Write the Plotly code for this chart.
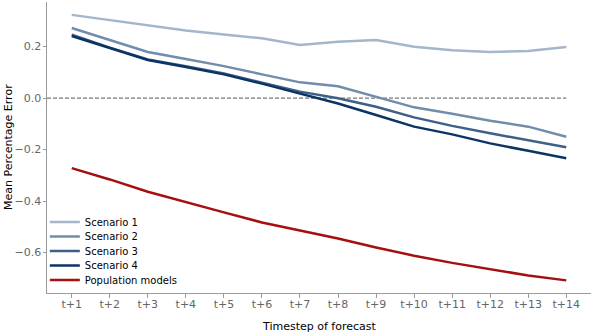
import plotly.graph_objects as go

# Forecast horizons
steps = [f"t+{i}" for i in range(1, 15)]

# Mean percentage error per scenario
scenario_1 = [0.323, 0.303, 0.283, 0.262, 0.247, 0.232, 0.206, 0.219, 0.225, 0.199, 0.186, 0.179, 0.183, 0.198]
scenario_2 = [0.272, 0.225, 0.179, 0.152, 0.124, 0.092, 0.061, 0.046, 0.005, -0.036, -0.061, -0.088, -0.111, -0.150]
scenario_3 = [0.246, 0.196, 0.150, 0.124, 0.095, 0.060, 0.025, -0.001, -0.034, -0.075, -0.108, -0.137, -0.163, -0.191]
scenario_4 = [0.241, 0.193, 0.148, 0.121, 0.092, 0.056, 0.018, -0.021, -0.066, -0.111, -0.141, -0.176, -0.205, -0.234]
population = [-0.272, -0.316, -0.364, -0.405, -0.444, -0.483, -0.513, -0.545, -0.580, -0.612, -0.640, -0.665, -0.689, -0.708]

series = [
    ("Scenario 1", scenario_1, "#a3b6cb"),
    ("Scenario 2", scenario_2, "#718dab"),
    ("Scenario 3", scenario_3, "#3d5f88"),
    ("Scenario 4", scenario_4, "#0c3463"),
    ("Population models", population, "#a50f0f"),
]

x_idx = list(range(len(steps)))
x_range = [-0.65, len(steps) - 1 + 0.65]

# plot area in pixels (used to place the stacked legends)
W, H = 592, 336
M = dict(l=47, r=1, t=2, b=43)
plot_h = H - M["t"] - M["b"]

fig = go.Figure()
legends = {}
for i, (name, vals, color) in enumerate(series):
    key = "legend" if i == 0 else f"legend{i + 1}"
    fig.add_trace(go.Scatter(
        x=x_idx, y=vals, name=name, mode="lines",
        line=dict(color=color, width=2.5), legend=key,
    ))
    # one legend per entry so rows can sit close together like matplotlib
    row_px = 222 + i * 14.5
    legends[key] = dict(
        x=-0.004, y=(H - M["b"] - row_px) / plot_h, xanchor="left", yanchor="middle",
        bgcolor="rgba(0,0,0,0)", itemwidth=30,
        font=dict(family="DejaVu Sans", size=10, color="black"),
    )

# zero reference line
fig.add_shape(type="line", xref="x", x0=x_range[0], x1=x_idx[-1], yref="y", y0=0, y1=0,
              line=dict(color="#7a7a7a", width=1.2, dash="4px,2px"), layer="below")

axis_common = dict(
    showgrid=False, zeroline=False, showline=True, linecolor="#9a9a9a", linewidth=1,
    ticks="outside", ticklen=3.5, tickcolor="#9a9a9a", automargin=False,
    tickfont=dict(size=11, color="#666666"),
)

fig.update_layout(
    width=W, height=H,
    margin=M,
    plot_bgcolor="white", paper_bgcolor="white",
    font=dict(family="DejaVu Sans, Arial, sans-serif", size=11, color="black"),
    showlegend=True,
    xaxis=dict(range=x_range, tickmode="array", tickvals=x_idx, ticktext=steps,
               ticklabelstandoff=-3, **axis_common),
    yaxis=dict(range=[-0.757, 0.373], tickvals=[-0.6, -0.4, -0.2, 0.0, 0.2], tickformat=".1f",
               ticklabelstandoff=-1, **axis_common),
    annotations=[
        dict(text="Timestep of forecast", xref="paper", yref="paper",
             x=0.5, y=(H - M["b"] - 326) / plot_h, xanchor="center", yanchor="middle",
             showarrow=False, font=dict(size=11)),
        dict(text="Mean Percentage Error", xref="paper", yref="paper",
             x=(8.5 - M["l"]) / (W - M["l"] - M["r"]), y=0.5, xanchor="center", yanchor="middle",
             textangle=-90, showarrow=False, font=dict(size=11)),
    ],
    **legends,
)

# drop the default page margin so the figure sits at the window's corner
fig.write_html("out.html", config={"displayModeBar": False},
               post_script="document.body.style.margin='0';")
